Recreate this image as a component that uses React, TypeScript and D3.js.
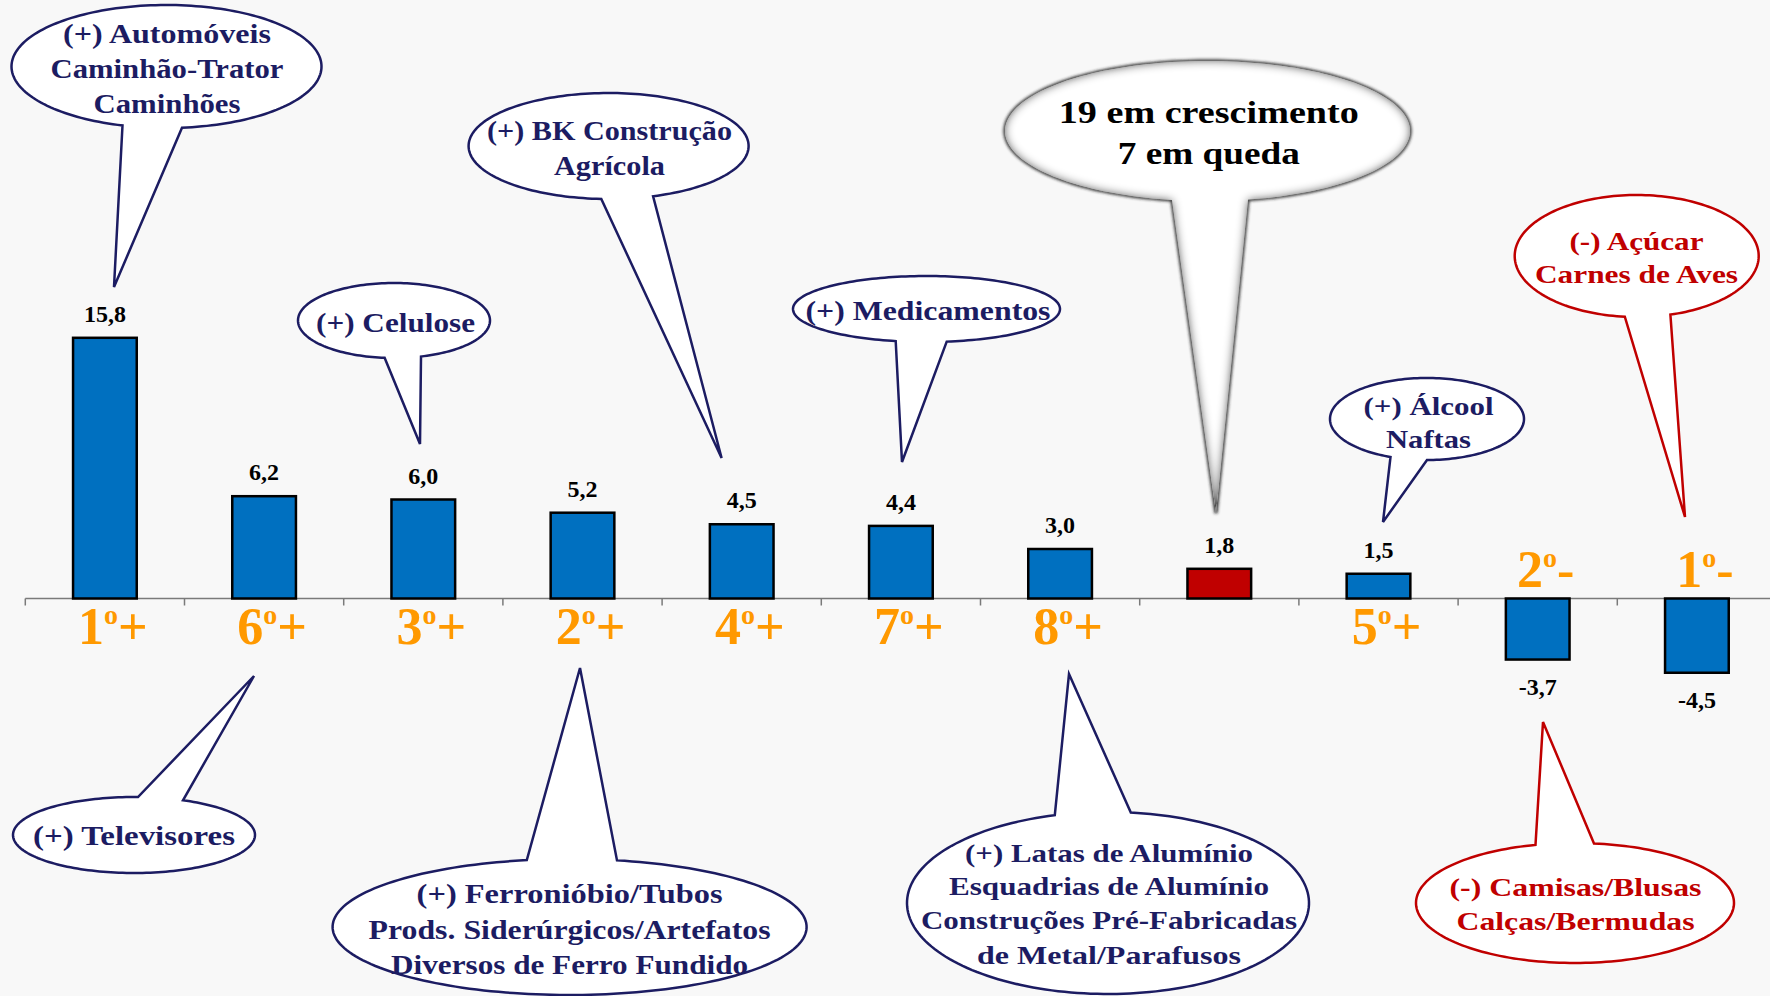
import React from "react";
import * as d3 from "d3";

// ---------- data ----------
const rankNumbers = ["1", "6", "3", "2", "4", "7", "8", "", "5", "2", "1"];
const rankSigns = ["+", "+", "+", "+", "+", "+", "+", "", "+", "-", "-"];
const values = [15.8, 6.2, 6.0, 5.2, 4.5, 4.4, 3.0, 1.8, 1.5, -3.7, -4.5];
const isAggregate = [false, false, false, false, false, false, false, true, false, false, false];

const calloutTexts = [
  ["(+) Automóveis", "Caminhão-Trator", "Caminhões"],
  ["(+) BK Construção", "Agrícola"],
  ["(+) Celulose"],
  ["(+) Medicamentos"],
  ["(+) Televisores"],
  ["(+) Ferronióbio/Tubos", "Prods. Siderúrgicos/Artefatos", "Diversos de Ferro Fundido"],
  ["(+) Latas de Alumínio", "Esquadrias de Alumínio", "Construções Pré-Fabricadas", "de Metal/Parafusos"],
  ["(-) Camisas/Blusas", "Calças/Bermudas"],
  ["19 em crescimento", "7 em queda"],
  ["(+) Álcool", "Naftas"],
  ["(-) Açúcar", "Carnes de Aves"],
];

// ---------- layout / style ----------
const W = 1770;
const H = 996;
const NAVY = "#1c1c62";
const RED = "#c00000";
const FONT = "'Liberation Serif', 'Times New Roman', serif";

type Callout = {
  cx: number; cy: number; rx: number; ry: number;
  base: [number, number]; side: "top" | "bottom"; tip: [number, number];
  tx: number; baselines: number[]; widths: number[]; fs: number;
  kind: "navy" | "red" | "shadow";
};

const calloutLayout: Callout[] = [
  { cx: 166.5, cy: 66.5, rx: 155, ry: 61.5, base: [122.5, 182], side: "bottom", tip: [114, 287], tx: 167, baselines: [43, 78, 113], widths: [208, 233, 147], fs: 27, kind: "navy" },
  { cx: 608.6, cy: 146, rx: 140, ry: 53, base: [601.3, 653.1], side: "bottom", tip: [721.6, 458], tx: 609.5, baselines: [140, 175], widths: [245, 111], fs: 28, kind: "navy" },
  { cx: 394, cy: 320.5, rx: 96, ry: 37.5, base: [384.6, 421], side: "bottom", tip: [420, 444], tx: 395.5, baselines: [332], widths: [159], fs: 27, kind: "navy" },
  { cx: 926.5, cy: 309, rx: 133.5, ry: 33, base: [895.7, 946.7], side: "bottom", tip: [902, 462], tx: 928, baselines: [320], widths: [245], fs: 28, kind: "navy" },
  { cx: 134, cy: 835, rx: 121, ry: 38, base: [138, 183], side: "top", tip: [254, 676], tx: 134, baselines: [845], widths: [202], fs: 27, kind: "navy" },
  { cx: 569.6, cy: 927, rx: 237, ry: 68, base: [526.8, 617], side: "top", tip: [580, 668], tx: 569.6, baselines: [903, 939, 974], widths: [306, 402, 357], fs: 27, kind: "navy" },
  { cx: 1108, cy: 903, rx: 201, ry: 91, base: [1054.8, 1130.8], side: "top", tip: [1069, 674], tx: 1109, baselines: [862, 895, 929, 964], widths: [288, 320, 376, 264], fs: 25, kind: "navy" },
  { cx: 1575, cy: 903, rx: 159, ry: 60, base: [1535.5, 1594], side: "top", tip: [1543, 722], tx: 1575.5, baselines: [896, 930], widths: [252, 238], fs: 26, kind: "red" },
  { cx: 1207.5, cy: 131, rx: 202.5, ry: 70, base: [1172, 1248], side: "bottom", tip: [1216, 513], tx: 1208.8, baselines: [123, 164], widths: [300, 182], fs: 32, kind: "shadow" },
  { cx: 1427, cy: 419, rx: 97, ry: 41, base: [1390.5, 1427], side: "bottom", tip: [1383, 522], tx: 1428.5, baselines: [415, 448], widths: [130, 85], fs: 26, kind: "navy" },
  { cx: 1636.7, cy: 256, rx: 122, ry: 61, base: [1624.8, 1670.4], side: "bottom", tip: [1685, 517], tx: 1636.5, baselines: [250, 283], widths: [134, 203], fs: 26, kind: "red" },
];

function calloutPath(b: Callout): string {
  const ang = (x: number) => {
    const c = Math.max(-1, Math.min(1, (x - b.cx) / b.rx));
    const t = Math.acos(c);
    return b.side === "bottom" ? t : -t;
  };
  const t1 = ang(b.base[0]);
  const t2 = ang(b.base[1]);
  const a = Math.min(t1, t2);
  const s = Math.max(t1, t2);
  const end = a + 2 * Math.PI;
  const N = 180;
  const pts: [number, number][] = [b.tip];
  for (let i = 0; i <= N; i++) {
    const t = s + ((end - s) * i) / N;
    pts.push([b.cx + b.rx * Math.cos(t), b.cy + b.ry * Math.sin(t)]);
  }
  return (d3.line()(pts) || "") + "Z";
}

const fmt = (v: number) => d3.format(".1f")(v).replace(".", ",").replace("−", "-");

export default function App() {
  const ids = values.map((_, i) => i);
  const x = d3.scaleBand<number>().domain(ids).range([25.3, 1776.5]).paddingInner(0.6).paddingOuter(0.3);
  const y = d3.scaleLinear().domain([0, 10]).range([598.5, 433.5]);
  const step = x.step();
  const x0 = x.range()[0];
  const ticks = d3.range(0, values.length).map((k) => x0 + k * step);
  const y0 = y(0);

  return (
    <>
      <style>{"body{margin:0;background:#f8f8f8}"}</style>
      <svg width={W} height={H} style={{ display: "block", background: "#f8f8f8" }} fontFamily={FONT}>
        <defs>
          <filter id="innerShadow" x="-10%" y="-10%" width="120%" height="120%">
            <feFlood floodColor="#000" result="f" />
            <feComposite in="f" in2="SourceAlpha" operator="out" result="outside" />
            <feGaussianBlur in="outside" stdDeviation="5" result="blur" />
            <feComposite in="blur" in2="SourceAlpha" operator="in" result="inner" />
            <feComponentTransfer in="inner" result="innerFade">
              <feFuncA type="linear" slope="1.1" />
            </feComponentTransfer>
            <feMerge>
              <feMergeNode in="SourceGraphic" />
              <feMergeNode in="innerFade" />
            </feMerge>
          </filter>
          <filter id="softEdge" x="-10%" y="-10%" width="120%" height="120%">
            <feGaussianBlur stdDeviation="1.4" />
          </filter>
        </defs>

        {/* axis */}
        <line x1={x0} x2={W} y1={y0} y2={y0} stroke="#7a7a7a" strokeWidth={1.5} />
        {ticks.map((t, i) => (
          <line key={"t" + i} x1={t} x2={t} y1={y0} y2={y0 + 7} stroke="#7a7a7a" strokeWidth={1.5} />
        ))}

        {/* bars */}
        {values.map((v, i) => (
          <rect
            key={"b" + i}
            x={x(i)}
            y={Math.min(y(v), y0)}
            width={x.bandwidth()}
            height={Math.abs(y(v) - y0)}
            fill={isAggregate[i] ? "#c00000" : "#0070c0"}
            stroke="#000"
            strokeWidth={2.5}
          />
        ))}

        {/* value labels */}
        {values.map((v, i) => (
          <text
            key={"v" + i}
            x={(x(i) as number) + x.bandwidth() / 2}
            y={v >= 0 ? y(v) - 16 : y(v) + 35}
            textAnchor="middle"
            fontSize={24}
            fontWeight="bold"
            fill="#000"
          >
            {fmt(v)}
          </text>
        ))}

        {/* rank labels */}
        {rankNumbers.map((r, i) =>
          r === "" ? null : (
            <text
              key={"r" + i}
              x={(x(i) as number) + x.bandwidth() / 2 + 8}
              y={values[i] >= 0 ? y0 + 45 : y0 - 12}
              textAnchor="middle"
              fontSize={52}
              fontWeight="bold"
              fill="#ff9900"
            >
              <tspan>{r}</tspan>
              <tspan fontSize={28} dy={-20}>o</tspan>
              <tspan fontSize={52} dy={20}>{rankSigns[i]}</tspan>
            </text>
          )
        )}

        {/* callouts */}
        {calloutLayout.map((b, i) => {
          const color = b.kind === "red" ? RED : b.kind === "navy" ? NAVY : "#000";
          const d = calloutPath(b);
          return (
            <g key={"c" + i}>
              {b.kind === "shadow" ? (
                <>
                  <path d={d} fill="none" stroke="#222" strokeWidth={3} filter="url(#softEdge)" />
                  <path d={d} fill="#fff" stroke="none" filter="url(#innerShadow)" />
                </>
              ) : (
                <path d={d} fill="#fff" stroke={color} strokeWidth={2.5} />
              )}
              {calloutTexts[i].map((line, j) => (
                <text
                  key={j}
                  x={b.tx}
                  y={b.baselines[j]}
                  textAnchor="middle"
                  fontSize={b.fs}
                  fontWeight="bold"
                  fill={color}
                  textLength={b.widths[j]}
                  lengthAdjust="spacingAndGlyphs"
                >
                  {line}
                </text>
              ))}
            </g>
          );
        })}
      </svg>
    </>
  );
}
